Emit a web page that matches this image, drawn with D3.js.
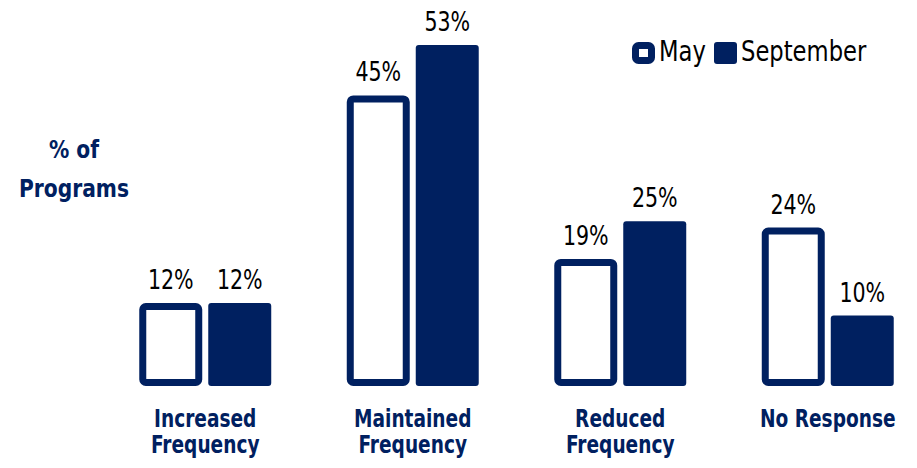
<!DOCTYPE html>
<html>
<head>
<meta charset="utf-8">
<script src="https://cdn.jsdelivr.net/npm/d3@7"></script>
<style>
  html, body { margin: 0; padding: 0; background: #fff; }
  svg text { font-family: "Liberation Sans Narrow", "DejaVu Sans Condensed", "DejaVu Sans", sans-serif; }
</style>
</head>
<body>
<svg id="chart1" width="917" height="468"></svg>
<script>
const categories = [["Increased", "Frequency"], ["Maintained", "Frequency"], ["Reduced", "Frequency"], ["No Response"]];
const seriesNames = ["May", "September"];
const mayValues = [12, 45, 19, 24];
const septemberValues = [12, 53, 25, 10];

const navy = "#002060";
const strokeW = 7;
const bottom = 386; // bars run down to here
const squeeze = 0.88; // the original font is a condensed one

let svg = d3.select("#chart1");

// text helper: places text at x,y and narrows it horizontally
function place(sel, fx, fy, sx) {
  sel.attr("transform", (d, i) => {
    return "translate(" + fx(d, i) + "," + fy(d, i) + ") scale(" + sx + ",1)";
  });
}

let x0 = d3.scaleBand()
  .domain(d3.range(categories.length))
  .range([101.5, 931.5])
  .paddingInner(0.364)
  .paddingOuter(0.182);

let x1 = d3.scaleBand()
  .domain(seriesNames)
  .range([0, x0.bandwidth()])
  .paddingInner(0.087);

let yLinear = d3.scaleLinear()
  .domain([0, 60])
  .range([378.5, 1]);

let rows = [];
categories.forEach((c, i) => {
  rows.push({ i: i, s: "May", v: mayValues[i] });
  rows.push({ i: i, s: "September", v: septemberValues[i] });
});

let bw = x1.bandwidth();

// bars
svg.selectAll("rect.bar")
  .data(rows)
  .enter()
  .append("rect")
    .attr("class", "bar")
    .attr("x", (d) => { return x0(d.i) + x1(d.s) + (d.s == "May" ? strokeW / 2 : 0); })
    .attr("y", (d) => { return yLinear(d.v) + (d.s == "May" ? strokeW / 2 : 0); })
    .attr("width", (d) => { return d.s == "May" ? bw - strokeW : bw; })
    .attr("height", (d) => { return bottom - yLinear(d.v) - (d.s == "May" ? strokeW : 0); })
    .attr("rx", 3)
    .attr("fill", (d) => { return d.s == "May" ? "#fff" : navy; })
    .attr("stroke", (d) => { return d.s == "May" ? navy : "none"; })
    .attr("stroke-width", strokeW);

// value labels
svg.selectAll("text.val")
  .data(rows)
  .enter()
  .append("text")
    .attr("class", "val")
    .attr("text-anchor", "middle")
    .attr("font-size", 26)
    .attr("fill", "#000")
    .text((d) => { return d.v + "%"; })
    .call(place,
      (d) => { return x0(d.i) + x1(d.s) + bw / 2; },
      (d) => { return yLinear(d.v) - 14; },
      squeeze);

// category labels
let catLines = [];
categories.forEach((c, i) => {
  c.forEach((t, j) => { catLines.push({ t: t, i: i, j: j }); });
});
svg.selectAll("text.cat")
  .data(catLines)
  .enter()
  .append("text")
    .attr("class", "cat")
    .attr("text-anchor", "middle")
    .attr("font-size", 24)
    .attr("font-weight", "bold")
    .attr("fill", navy)
    .text((d) => { return d.t; })
    .call(place,
      (d) => { return x0(d.i) + x0.bandwidth() / 2; },
      (d) => { return 427 + d.j * 26; },
      0.86);

// y axis title
svg.selectAll("text.ytitle")
  .data(["% of", "Programs"])
  .enter()
  .append("text")
    .attr("class", "ytitle")
    .attr("text-anchor", "middle")
    .attr("font-size", 25)
    .attr("font-weight", "bold")
    .attr("fill", navy)
    .text((d) => { return d; })
    .call(place,
      () => { return 74; },
      (d, i) => { return 158 + i * 39; },
      0.9);

// legend
let legendX = [632, 714];
let legend = svg.selectAll("g.legend")
  .data(seriesNames)
  .enter()
  .append("g")
    .attr("class", "legend")
    .attr("transform", (d, i) => { return "translate(" + legendX[i] + ",42)"; });
legend.append("rect")
  .attr("x", (d) => { return d == "May" ? strokeW / 2 : 0; })
  .attr("y", (d) => { return d == "May" ? strokeW / 2 : 0; })
  .attr("width", (d) => { return d == "May" ? 23 - strokeW : 23; })
  .attr("height", (d) => { return d == "May" ? 22 - strokeW : 22; })
  .attr("rx", 3)
  .attr("fill", (d) => { return d == "May" ? "#fff" : navy; })
  .attr("stroke", (d) => { return d == "May" ? navy : "none"; })
  .attr("stroke-width", strokeW);
legend.append("text")
  .attr("font-size", 28)
  .attr("fill", "#000")
  .text((d) => { return d; })
  .call(place, () => { return 27; }, () => { return 19; }, 0.9);
</script>
</body>
</html>
